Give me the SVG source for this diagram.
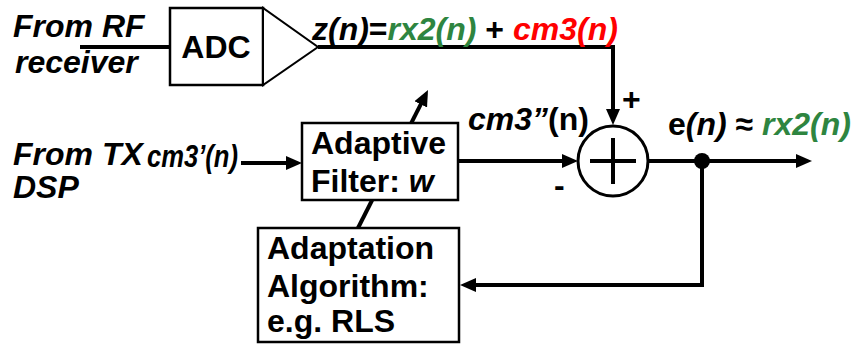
<svg xmlns="http://www.w3.org/2000/svg" width="853" height="346" viewBox="0 0 853 346">
<style>
text{font-family:"Liberation Sans",Arial,sans-serif;font-weight:bold;font-size:32px;fill:#000}
.i{font-style:italic}
.g{fill:#2e8540}
.r{fill:#ff0000}
.box{fill:#fff;stroke:#000;stroke-width:2.5}
.w{fill:none;stroke:#000;stroke-width:4}
</style>
<defs>
<marker id="ah" markerUnits="userSpaceOnUse" markerWidth="16" markerHeight="14" refX="10" refY="7" orient="auto">
<path d="M0,0 L16,7 L0,14 z" fill="#000"/>
</marker>
</defs>
<rect width="853" height="346" fill="#fff"/>
<g id="connectors">
<path class="w" d="M80,47 H170"/>
<path class="w" d="M318,47 H613 V119" marker-end="url(#ah)"/>
<path class="w" d="M241,163 H296" marker-end="url(#ah)"/>
<path class="w" d="M458,161 H572" marker-end="url(#ah)"/>
<path class="w" d="M648,161 H806" marker-end="url(#ah)"/>
<path class="w" d="M702,161 V285 H466" marker-end="url(#ah)"/>
<path class="w" d="M358,228 L425.3,95.4" marker-end="url(#ah)"/>
<circle cx="702" cy="161" r="8" fill="#000"/>
</g>
<g id="labels">
<text class="i" x="13" y="37">From RF</text>
<text class="i" x="15" y="73">receiver</text>
<text x="312" y="40"><tspan class="i">z(n)</tspan>=<tspan class="i g">rx2(n)</tspan> + <tspan class="i r">cm3(n)</tspan></text>
<text class="i" x="13" y="165" font-size="30">From TX</text>
<text class="i" x="13" y="198" font-size="30">DSP</text>
<text class="i" x="147" y="167" font-size="22" textLength="91" lengthAdjust="spacingAndGlyphs">cm3’(n)</text>
<text x="468" y="130"><tspan class="i">cm3”</tspan>(n)</text>
<text x="668" y="135">e<tspan class="i">(n)</tspan> ≈ <tspan class="i g">rx2(n)</tspan></text>
<text x="622" y="110" font-size="26">+</text>
<text x="554" y="196" font-size="26">-</text>
</g>
<g id="adc">
<rect class="box" x="170" y="8" width="93" height="77"/>
<polygon points="263,8 263,85 318,47" fill="#fff" stroke="#000" stroke-width="2"/>
<text x="216" y="58" text-anchor="middle">ADC</text>
</g>
<g id="filter">
<rect class="box" x="302" y="123" width="156" height="77"/>
<text x="311" y="154">Adaptive</text>
<text x="311" y="192">Filter: <tspan class="i">w</tspan></text>
</g>
<g id="sum">
<circle cx="613" cy="161" r="35" fill="#fff" stroke="#000" stroke-width="3"/>
<path d="M590,161 H636 M613,138 V184" stroke="#000" stroke-width="4"/>
</g>
<g id="adaptation">
<rect class="box" x="258" y="228" width="201" height="114"/>
<text x="267" y="259">Adaptation</text>
<text x="267" y="297">Algorithm:</text>
<text x="267" y="332">e.g. RLS</text>
</g>
</svg>
